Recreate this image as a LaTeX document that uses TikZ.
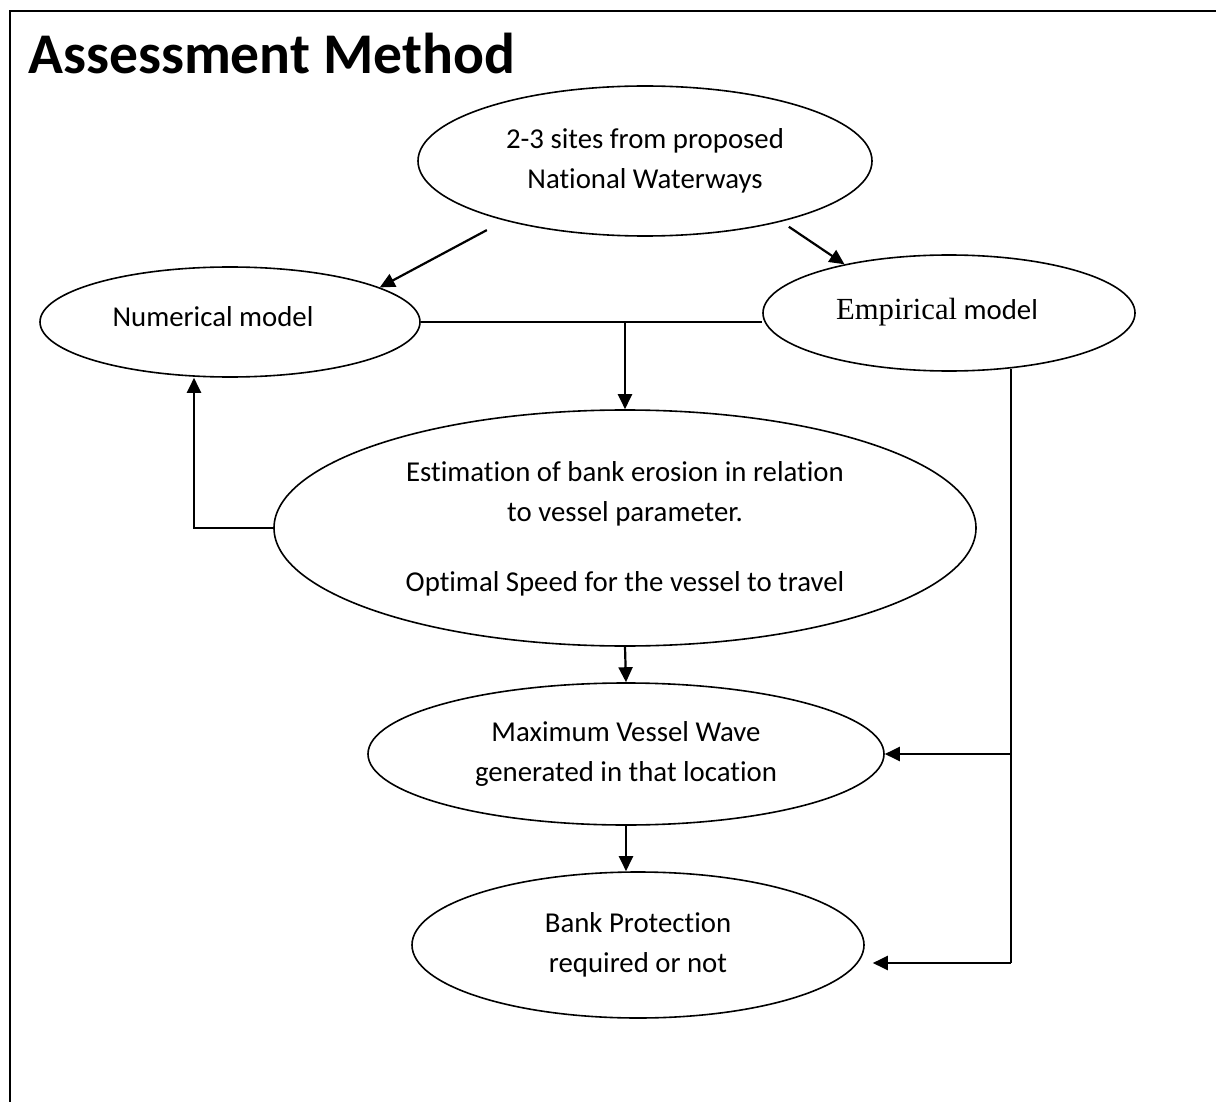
\documentclass[tikz,border=0pt]{standalone}
\usepackage{fontspec}
\setmainfont{Carlito}[Ligatures=NoCommon]
\newfontfamily\serifpart{Liberation Serif}
\usetikzlibrary{shapes.geometric, arrows.meta}

\begin{document}
\begin{tikzpicture}[
    x=1pt, y=-1pt,
    font=\fontsize{28.8}{40}\selectfont,
    stage/.style={ellipse, draw, line width=1.6pt, inner sep=0pt, align=center},
    arrow/.style={-{Triangle[length=15pt, width=14pt]}, line width=2.2pt},
    link/.style={line width=1.8pt}
]
\useasboundingbox (0,0) rectangle (1216,1102);

% Frame and title
\draw[line width=2.2pt] (10,1102) -- (10,11) -- (1216,11);
\node[anchor=base west, inner sep=0pt, font=\fontsize{57.6}{60}\selectfont\bfseries] (title) at (28,74) {Assessment Method};

% Stages
\node[stage, minimum width=454pt, minimum height=150pt] (sites) at (645,161) {\raisebox{4pt}{\begin{tabular}{@{}c@{}}2-3 sites from proposed\\National Waterways\end{tabular}}};
\node[stage, minimum width=380pt, minimum height=110pt] (num) at (230,322) {\raisebox{10pt}{Numerical model}\hspace*{34pt}};
\node[stage, minimum width=372pt, minimum height=116pt] (emp) at (949,313) {\raisebox{9pt}{{\serifpart\fontsize{30.7}{36}\selectfont Empirical} model}\hspace*{24pt}};
\node[stage, minimum width=702pt, minimum height=236pt] (est) at (625,528) {\raisebox{-5pt}{\begin{tabular}{@{}c@{}}Estimation of bank erosion in relation\\to vessel parameter.\\[30pt]Optimal Speed for the vessel to travel\end{tabular}}};
\node[stage, minimum width=516pt, minimum height=142pt] (max) at (626,754) {Maximum Vessel Wave\\generated in that location};
\node[stage, minimum width=452pt, minimum height=146pt] (bank) at (638,945) {Bank Protection\\required or not};

% Connections
\draw[arrow, shorten <=20pt] (sites.203) -- (num.13);
\draw[arrow, shorten <=9pt] (sites.-24) -- (emp.155);
\draw[link] (num.east) -- (num.east -| emp.west);
\draw[arrow] (num.east -| est.north) -- (est.north);
\draw[arrow] (est.west) -| ([xshift=-36pt]num.south);
\draw[arrow] (est.south) -- (max.north);
\draw[arrow] (max.south) -- (max.south |- bank.north);

% Empirical model feeds the lower stages
\coordinate (railtop) at (emp.-42);
\coordinate (bankin) at ([xshift=8pt, yshift=-18pt]bank.east);
\draw[link] (railtop) -- (railtop |- bankin);
\draw[arrow] (railtop |- max.east) -- (max.east);
\draw[arrow] (railtop |- bankin) -- (bankin);

\end{tikzpicture}
\end{document}
